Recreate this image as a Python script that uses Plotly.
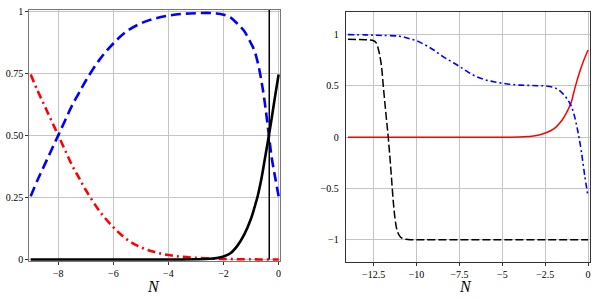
import plotly.graph_objects as go

# ---------------- Left panel data ----------------
N_left = [-9, -8.75, -8.5, -8.25, -8, -7.75, -7.5, -7.25, -7, -6.5, -6, -5.5, -5, -4.5, -4,
          -3.5, -3, -2.5, -2.25, -2, -1.75, -1.5, -1.25, -1, -0.875, -0.75, -0.625, -0.5,
          -0.375, -0.25, -0.125, 0]
red_left = [0.745, 0.68, 0.62, 0.56, 0.50, 0.44, 0.38, 0.33, 0.28, 0.195, 0.13, 0.08, 0.049,
            0.03, 0.018, 0.011, 0.007, 0.004, 0.003, 0.002, 0.002, 0.001, 0.001, 0.001, 0.001,
            0.0, 0.0, 0.0, 0.0, 0.0, 0.0, 0.0]
black_left = [0, 0, 0, 0, 0, 0, 0, 0, 0, 0, 0, 0, 0, 0, 0, 0, 0.001, 0.003, 0.006, 0.012,
              0.025, 0.055, 0.1, 0.165, 0.21, 0.26, 0.325, 0.405, 0.485, 0.57, 0.66, 0.745]
blue_left = [0.255, 0.32, 0.38, 0.44, 0.50, 0.56, 0.62, 0.67, 0.72, 0.805, 0.87, 0.92, 0.951,
             0.97, 0.982, 0.989, 0.992, 0.993, 0.991, 0.986, 0.975, 0.95, 0.92, 0.87, 0.84,
             0.79, 0.72, 0.63, 0.52, 0.41, 0.33, 0.255]
N_eq = -0.34

# ---------------- Right panel data ----------------
N_black_r = [-14, -13.5, -13, -12.75, -12.5, -12.35, -12.2, -12.05, -11.95, -11.85, -11.75,
             -11.65, -11.55, -11.45, -11.35, -11.25, -11.15, -11.0, -10.85, -10.6, -10.3,
             -10, -7.5, -5, -2.5, 0]
black_r = [0.955, 0.953, 0.95, 0.948, 0.94, 0.92, 0.84, 0.70, 0.52, 0.34, 0.17, 0.0, -0.2,
           -0.42, -0.64, -0.8, -0.9, -0.96, -0.985, -0.997, -1.0, -1.0, -1.0, -1.0, -1.0, -1.0]

N_blue_r = [-14, -13, -12.5, -12, -11, -10.5, -10, -9.5, -9, -8.5, -8, -7.5, -7, -6.5, -6,
            -5.5, -5, -4.5, -4, -3.5, -3, -2.5, -2, -1.75, -1.5, -1.25, -1, -0.8, -0.6, -0.4,
            -0.2, 0]
blue_r = [1.0, 0.998, 0.995, 0.992, 0.985, 0.965, 0.94, 0.90, 0.85, 0.79, 0.74, 0.69, 0.635,
          0.59, 0.56, 0.54, 0.526, 0.515, 0.508, 0.505, 0.502, 0.50, 0.485, 0.465, 0.43, 0.38,
          0.31, 0.21, 0.06, -0.13, -0.37, -0.58]

N_red_r = [-14, -10, -7, -5, -4, -3.5, -3, -2.5, -2, -1.5, -1.25, -1, -0.75, -0.5, -0.25, 0]
red_r = [0.0, 0.0, 0.0, 0.0, 0.001, 0.006, 0.016, 0.04, 0.08, 0.17, 0.24, 0.33, 0.49, 0.63,
         0.75, 0.85]

# tick labels
left_xticks = [-8, -6, -4, -2, 0]
left_xticktext = ["\u22128", "\u22126", "\u22124", "\u22122", "0"]
left_yticks = [0, 0.25, 0.5, 0.75, 1]
left_yticktext = ["0", "0.25", "0.50", "0.75", "1"]
right_xticks = [-12.5, -10, -7.5, -5, -2.5, 0]
right_xticktext = ["\u221212.5", "\u221210", "\u22127.5", "\u22125", "\u22122.5", "0"]
right_yticks = [-1, -0.5, 0, 0.5, 1]
right_yticktext = ["\u22121", "\u22120.5", "0", "0.5", "1"]

FONT = "Liberation Serif"
fig = go.Figure()

# left panel traces
fig.add_trace(go.Scatter(x=N_left, y=red_left, mode="lines", xaxis="x", yaxis="y",
                         line=dict(color="#ff0000", width=2.6, dash="8px,4px,2px,4px", shape="spline")))
fig.add_trace(go.Scatter(x=N_left, y=blue_left, mode="lines", xaxis="x", yaxis="y",
                         line=dict(color="#0000ff", width=2.6, dash="10px,5px", shape="spline")))
fig.add_trace(go.Scatter(x=N_left, y=black_left, mode="lines", xaxis="x", yaxis="y",
                         line=dict(color="#000000", width=2.6, shape="spline")))
fig.add_trace(go.Scatter(x=[N_eq, N_eq], y=[0, 1.01], mode="lines", xaxis="x", yaxis="y",
                         line=dict(color="#000000", width=1.5)))

# right panel traces
fig.add_trace(go.Scatter(x=N_red_r, y=red_r, mode="lines", xaxis="x2", yaxis="y2",
                         line=dict(color="#ff0000", width=1.5, shape="spline")))
fig.add_trace(go.Scatter(x=N_blue_r, y=blue_r, mode="lines", xaxis="x2", yaxis="y2",
                         line=dict(color="#0000ff", width=1.6, dash="6px,3px,2px,3px", shape="spline")))
fig.add_trace(go.Scatter(x=N_black_r, y=black_r, mode="lines", xaxis="x2", yaxis="y2",
                         line=dict(color="#000000", width=1.5, dash="8px,3px", shape="spline")))

tickfont = dict(family=FONT, size=10, color="#000")
grid = "#c4c4c4"

fig.update_layout(
    width=603, height=298,
    margin=dict(l=0, r=0, t=0, b=0),
    paper_bgcolor="white", plot_bgcolor="white",
    showlegend=False,
    hovermode=False,
    xaxis=dict(domain=[29.3 / 603, 280 / 603], range=[-9.05, 0.05],
               tickvals=left_xticks, ticktext=left_xticktext, tickfont=tickfont,
               ticks="outside", ticklen=3, tickcolor="#333",
               showgrid=True, gridcolor=grid, gridwidth=1, zeroline=False,
               showline=True, linecolor="#777", linewidth=1, mirror=True,
               automargin=False, anchor="y"),
    yaxis=dict(domain=[1 - 261 / 298, 1 - 9.7 / 298], range=[-0.006, 1.006],
               tickvals=left_yticks, ticktext=left_yticktext, tickfont=tickfont,
               ticks="outside", ticklen=3, tickcolor="#333",
               showgrid=True, gridcolor=grid, gridwidth=1, zeroline=False,
               showline=True, linecolor="#777", linewidth=1, mirror=True,
               automargin=False, anchor="x"),
    xaxis2=dict(domain=[345.7 / 603, 590.3 / 603], range=[-14.13, 0.13],
                tickvals=right_xticks, ticktext=right_xticktext, tickfont=tickfont,
                ticks="outside", ticklen=3, tickcolor="#333",
                showgrid=True, gridcolor=grid, gridwidth=1, zeroline=False,
                showline=True, linecolor="#333", linewidth=1, mirror=True,
                automargin=False, anchor="y2"),
    yaxis2=dict(domain=[1 - 262 / 298, 1 - 12.3 / 298], range=[-1.218, 1.218],
                tickvals=right_yticks, ticktext=right_yticktext, tickfont=tickfont,
                ticks="", ticklabelstandoff=4,
                showgrid=True, gridcolor=grid, gridwidth=1, zeroline=False,
                showline=True, linecolor="#333", linewidth=1, mirror=True,
                automargin=False, anchor="x2"),
    annotations=[
        dict(text="<i>N</i>", xref="paper", yref="paper", x=153 / 603, y=1 - 286 / 298,
             showarrow=False, font=dict(family=FONT, size=16, color="#000"),
             xanchor="center", yanchor="middle"),
        dict(text="<i>N</i>", xref="paper", yref="paper", x=465.7 / 603, y=1 - 286.5 / 298,
             showarrow=False, font=dict(family=FONT, size=16, color="#000"),
             xanchor="center", yanchor="middle"),
    ],
)

fig.write_html("out.html", config={"displayModeBar": False, "staticPlot": True},
               post_script="document.body.style.margin='0';document.body.style.overflow='hidden';")
